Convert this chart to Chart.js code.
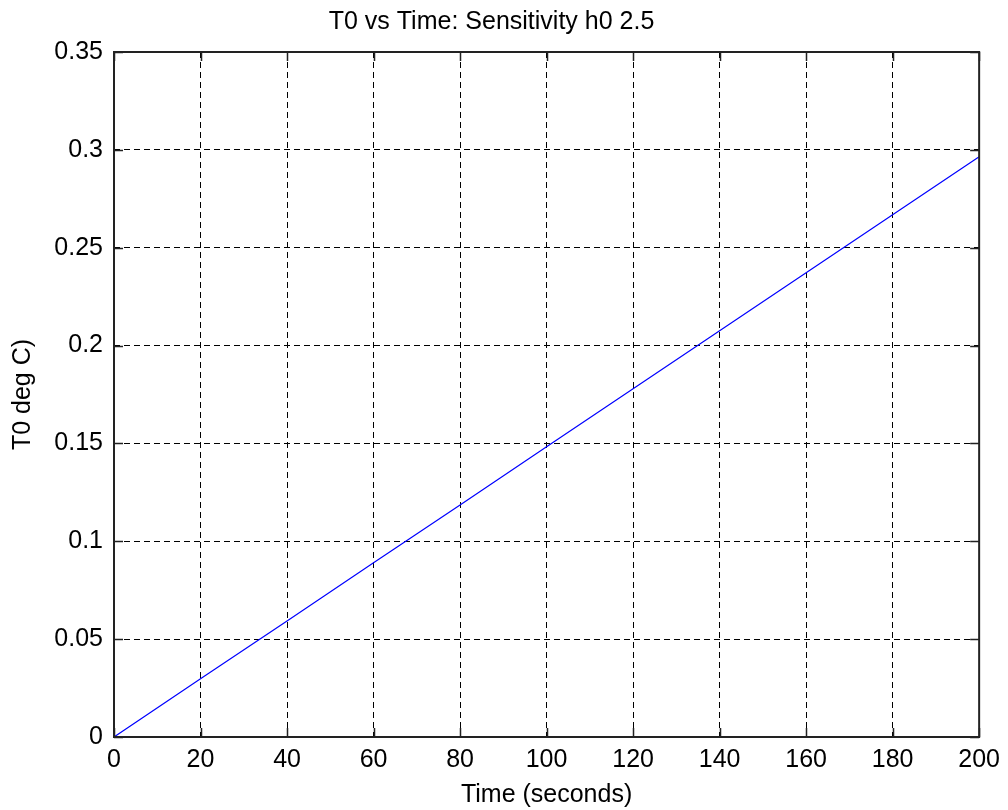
<!DOCTYPE html>
<html>
<head>
<meta charset="utf-8">
<script src="https://cdn.jsdelivr.net/npm/chart.js@4"></script>
<style>
  html, body { margin: 0; padding: 0; background: #fff; }
  #wrap { width: 1008px; height: 810px; }
</style>
</head>
<body>
<div id="wrap"><canvas id="chart" width="1008" height="810"></canvas></div>
<script>
// values
const timeSec = [0, 20, 40, 60, 80, 100, 120, 140, 160, 180, 200];
const t0Deg = [0, 0.0297, 0.0593, 0.089, 0.1186, 0.1483, 0.178, 0.2076, 0.2372, 0.2669, 0.2965];
const xTicks = [0, 20, 40, 60, 80, 100, 120, 140, 160, 180, 200];
const yTicks = [0, 0.05, 0.1, 0.15, 0.2, 0.25, 0.3, 0.35];

const FONT = "'Liberation Sans', Arial, sans-serif";

// MATLAB style box + inward tick marks
const boxTicks = {
  id: 'boxTicks',
  afterDraw(chart) {
    const { ctx, chartArea: a, scales } = chart;
    const len = 9;
    ctx.save();
    ctx.strokeStyle = '#222';
    ctx.lineWidth = 1.5;
    ctx.setLineDash([]);
    ctx.beginPath();
    scales.x.ticks.forEach(t => {
      const px = Math.round(scales.x.getPixelForValue(t.value)) + 0.5;
      ctx.moveTo(px, a.bottom); ctx.lineTo(px, a.bottom - len);
      ctx.moveTo(px, a.top); ctx.lineTo(px, a.top + len);
    });
    scales.y.ticks.forEach(t => {
      const py = Math.round(scales.y.getPixelForValue(t.value)) + 0.5;
      ctx.moveTo(a.left, py); ctx.lineTo(a.left + len, py);
      ctx.moveTo(a.right, py); ctx.lineTo(a.right - len, py);
    });
    ctx.stroke();
    ctx.lineWidth = 2;
    ctx.strokeRect(a.left, a.top, a.right - a.left, a.bottom - a.top);
    ctx.restore();
  }
};

new Chart(document.getElementById('chart'), {
  type: 'line',
  data: {
    datasets: [{
      label: 'T0',
      data: timeSec.map((t, i) => ({ x: t, y: t0Deg[i] })),
      borderColor: '#0000ff',
      borderWidth: 1.2,
      pointRadius: 0,
      tension: 0,
      fill: false
    }]
  },
  options: {
    responsive: false,
    animation: false,
    layout: { padding: { left: 0, right: 25, top: 0, bottom: 0 } },
    plugins: {
      legend: { display: false },
      tooltip: { enabled: false },
      title: {
        display: true,
        text: 'T0 vs Time: Sensitivity h0 2.5',
        color: '#000',
        font: { family: FONT, size: 25, weight: 'normal' },
        padding: { top: 7, bottom: 15 }
      }
    },
    scales: {
      x: {
        type: 'linear',
        min: 0,
        max: 200,
        afterBuildTicks: s => { s.ticks = xTicks.map(v => ({ value: v })); },
        afterFit: s => { s.height = 73; },
        ticks: {
          color: '#000',
          font: { family: FONT, size: 25 },
          padding: 8,
          maxRotation: 0,
          callback: v => String(v)
        },
        grid: { color: '#000', lineWidth: 1, drawTicks: false },
        border: { display: false, dash: [6, 4] },
        title: {
          display: true,
          text: 'Time (seconds)',
          color: '#000',
          font: { family: FONT, size: 25 },
          padding: { top: 2, bottom: 0 }
        }
      },
      y: {
        type: 'linear',
        min: 0,
        max: 0.35,
        afterBuildTicks: s => { s.ticks = yTicks.map(v => ({ value: v })); },
        afterFit: s => { s.width = 114; },
        ticks: {
          color: '#000',
          font: { family: FONT, size: 25 },
          padding: 11,
          callback: v => String(parseFloat(v.toFixed(2)))
        },
        grid: { color: '#000', lineWidth: 1, drawTicks: false },
        border: { display: false, dash: [6, 4] },
        title: {
          display: true,
          text: 'T0 deg C)',
          color: '#000',
          font: { family: FONT, size: 25 },
          padding: { top: 8, bottom: 0 }
        }
      }
    }
  },
  plugins: [boxTicks]
});
</script>
</body>
</html>
